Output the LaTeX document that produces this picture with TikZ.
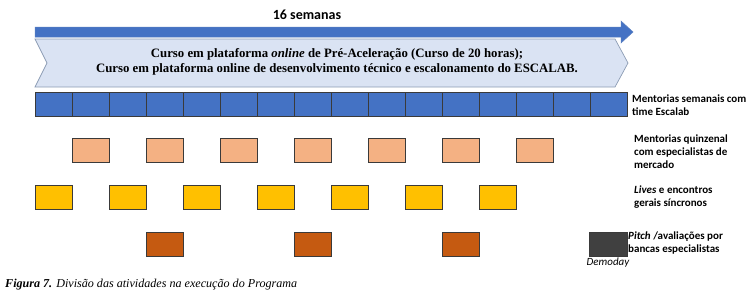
\documentclass[tikz,border=0pt]{standalone}
\usepackage{fontspec}
\setmainfont{Liberation Serif}
\newfontfamily\calib{Carlito}
\definecolor{arrowblue}{HTML}{4472C4}
\definecolor{arrowedge}{HTML}{5A7FC0}
\definecolor{chevfill}{HTML}{DAE3F3}
\definecolor{chevedge}{HTML}{8C9CB4}
\definecolor{salmon}{HTML}{F4B183}
\definecolor{gold}{HTML}{FFC000}
\definecolor{rust}{HTML}{C55A11}
\definecolor{darkbox}{HTML}{404040}
\definecolor{boxedge}{HTML}{3A3A3A}
\begin{document}
\begin{tikzpicture}[x=1pt,y=-1pt,
  cell/.style={draw=boxedge,line width=0.7pt,inner sep=0pt,minimum width=37pt,minimum height=24pt,anchor=north west},
  wk/.style={cell,fill=arrowblue},
  quin/.style={cell,fill=salmon},
  livebox/.style={cell,fill=gold},
  pitchbox/.style={cell,fill=rust},
  lbl/.style={font=\calib\bfseries\fontsize{11}{13}\selectfont,align=left,anchor=west,inner sep=0pt},
]
\useasboundingbox (0,0) rectangle (752,300);
% top arrow
\node[font=\calib\bfseries\fontsize{14}{16}\selectfont,inner sep=0pt] (weeks) at (307,15) {16 semanas};
\draw[fill=arrowblue,draw=arrowedge,line width=0.5pt]
  (35,27) -- (621,27) -- (621,21) -- (633,32) -- (621,43) -- (621,37) -- (35,37) -- cycle;
% chevron
\draw[fill=chevfill,draw=chevedge,line width=0.7pt]
  (35,39) -- (615,39) -- (628,63) -- (615,87) -- (35,87) -- (47,63) -- cycle;
\node[font=\bfseries\fontsize{12.8}{14.5}\selectfont,align=center,inner sep=0pt] (course) at (337,62)
  {Curso em plataforma \textit{online} de Pré-Aceleração (Curso de 20 horas);\\
   Curso em plataforma online de desenvolvimento técnico e escalonamento do ESCALAB.};
% weekly row
\foreach \k in {0,...,15} {
  \node[wk] (w\k) at ({35+37*\k},92) {};
}
% biweekly
\foreach \k in {1,3,...,13} {
  \node[quin] (q\k) at ({35+37*\k},138) {};
}
% lives
\foreach \k in {0,2,...,12} {
  \node[livebox] (l\k) at ({35+37*\k},185) {};
}
% pitch
\foreach \k in {3,7,11} {
  \node[pitchbox] (p\k) at ({35+37*\k},232) {};
}
\node[cell,fill=darkbox,minimum width=38pt] (demo) at (589,232) {};
\node[font=\calib\itshape\fontsize{11}{13}\selectfont,inner sep=0pt] (demolbl) at (608,263) {Demoday};
% labels
\node[lbl] (lab1) at (632,105.5) {Mentorias semanais com\\time Escalab};
\node[lbl] (lab2) at (634,152) {Mentorias quinzenal\\com especialistas de\\mercado};
\node[lbl] (lab3) at (634,197.5) {\textit{Lives} e encontros\\gerais síncronos};
\node[lbl] (lab4) at (628,243) {\textit{Pitch} /avaliações por\\bancas especialistas};
% caption
\node[font=\itshape\fontsize{12.1}{13}\selectfont,anchor=west,inner sep=0pt] (caption) at (5,285)
  {\textbf{Figura 7.} Divisão das atividades na execução do Programa};
\end{tikzpicture}
\end{document}
